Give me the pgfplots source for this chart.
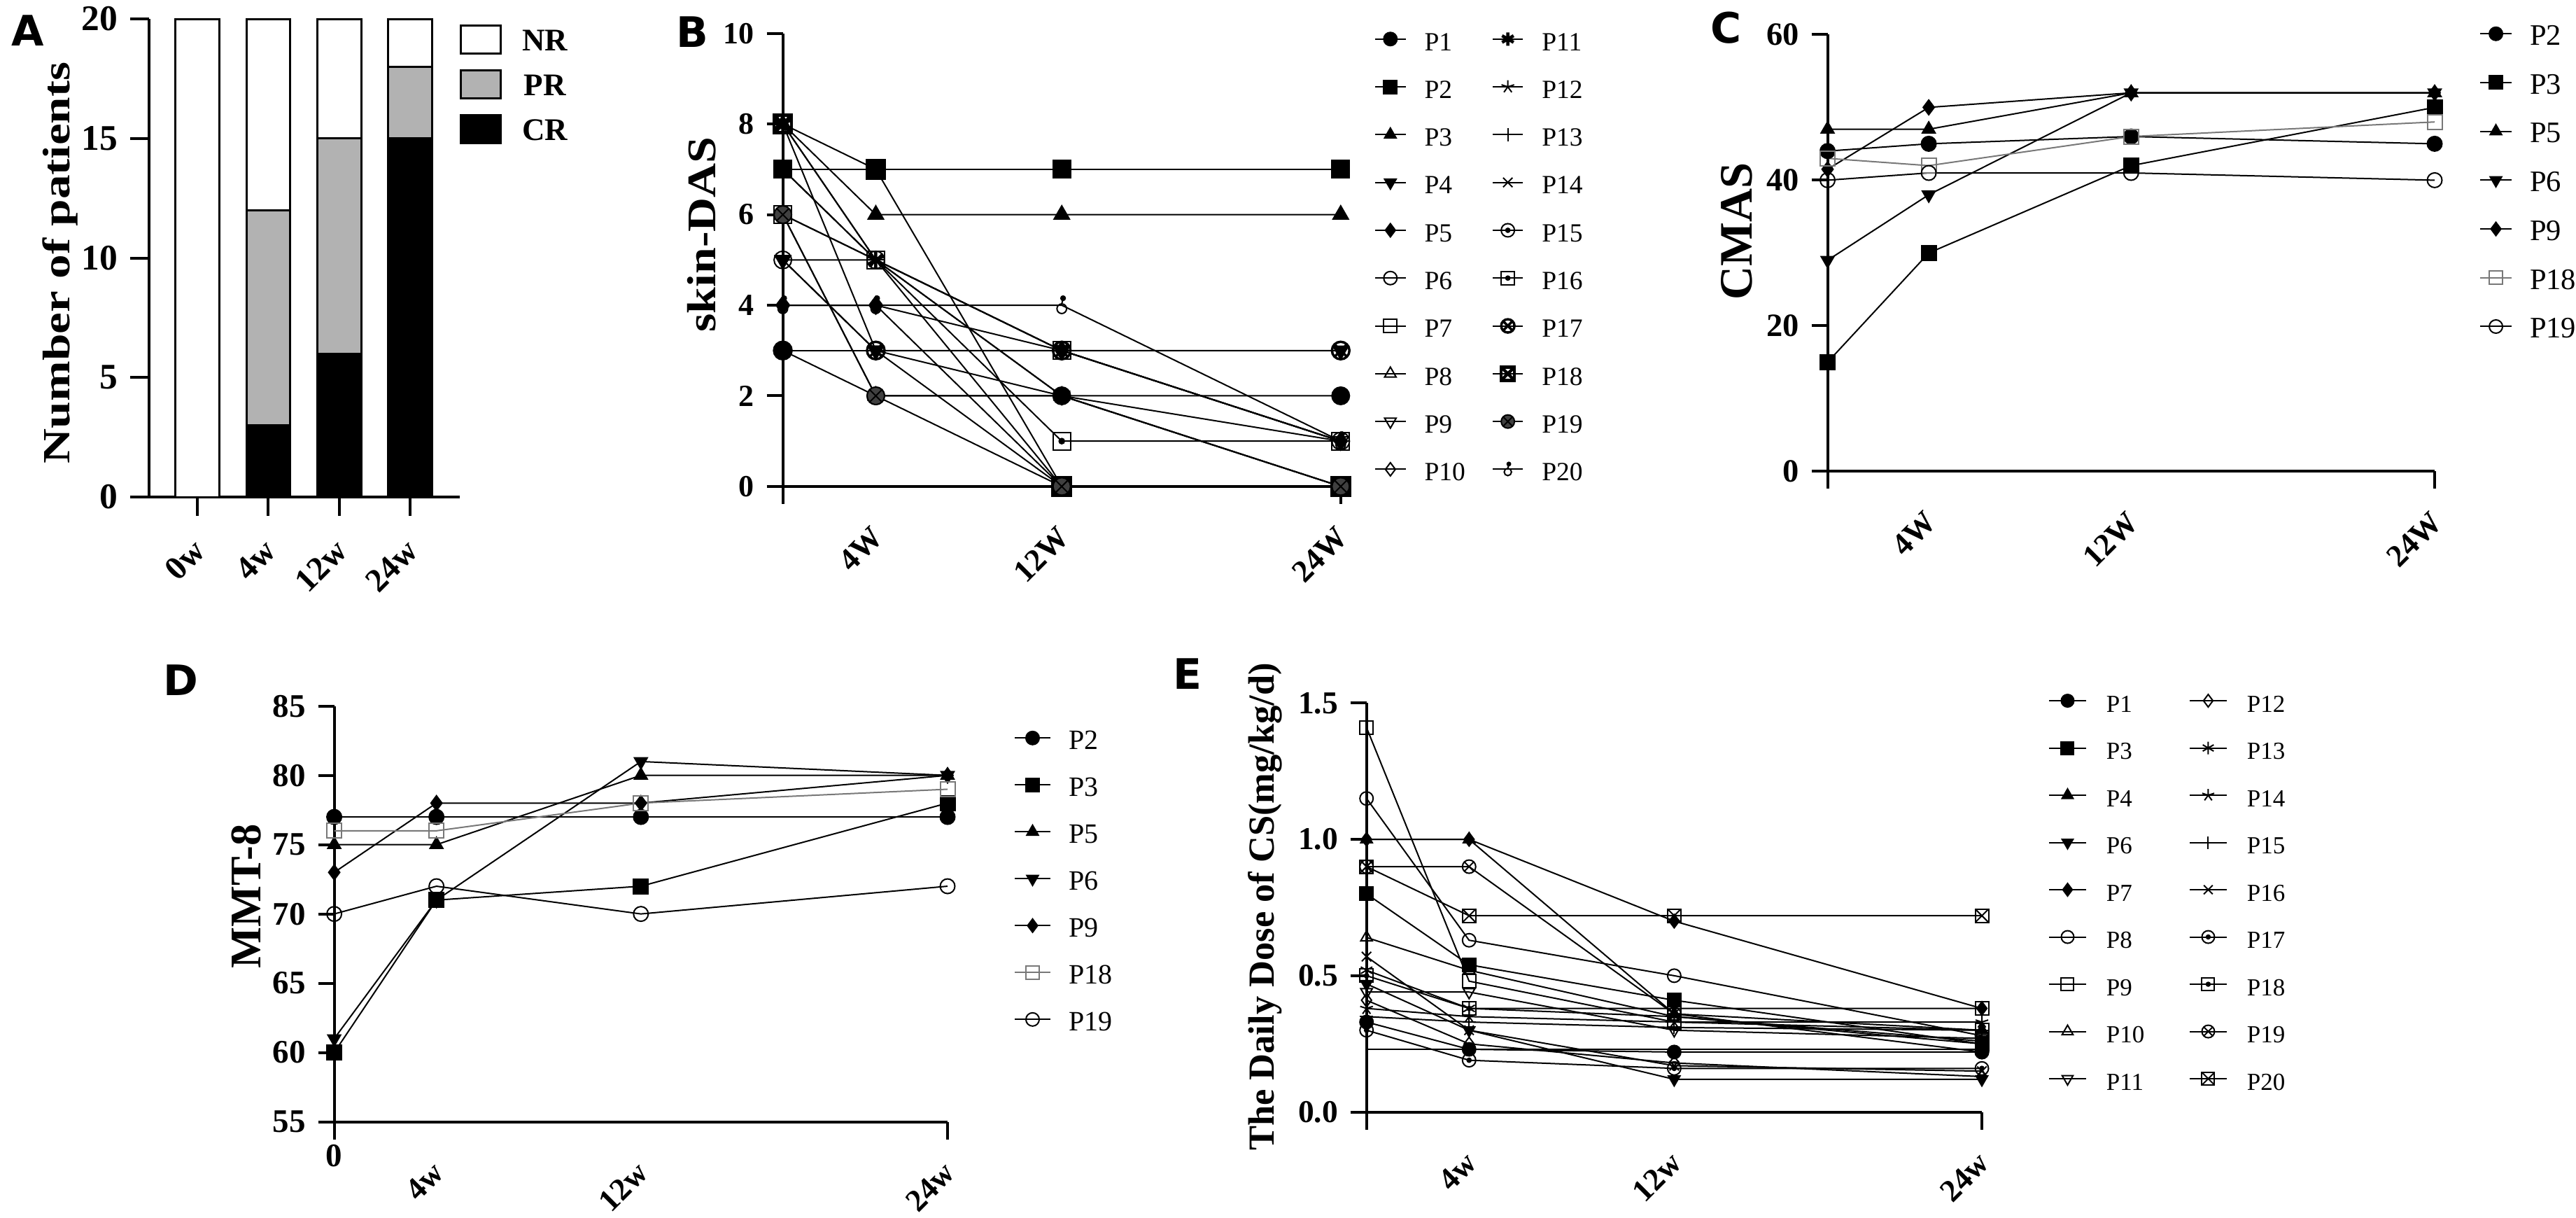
\documentclass[border=0pt]{standalone}
\usepackage{fontspec}
\setmainfont{Liberation Serif}
\newfontfamily\letterfont{DejaVu Sans}
\usepackage{pgfplots}
\pgfplotsset{compat=1.18}
\definecolor{prgray}{RGB}{178,178,178}
\definecolor{mgray}{RGB}{120,120,120}

% custom marks
\pgfdeclareplotmark{odot}{%
  \pgfpathcircle{\pgfpointorigin}{\pgfplotmarksize}\pgfusepathqstroke
  \pgfpathcircle{\pgfpointorigin}{0.3\pgfplotmarksize}\pgfusepathqfillstroke}
\pgfdeclareplotmark{sqdot}{%
  \pgfpathrectangle{\pgfpoint{-\pgfplotmarksize}{-\pgfplotmarksize}}{\pgfpoint{2\pgfplotmarksize}{2\pgfplotmarksize}}\pgfusepathqstroke
  \pgfpathcircle{\pgfpointorigin}{0.3\pgfplotmarksize}\pgfusepathqfillstroke}
\pgfdeclareplotmark{sqtimes}{%
  \pgfpathrectangle{\pgfpoint{-\pgfplotmarksize}{-\pgfplotmarksize}}{\pgfpoint{2\pgfplotmarksize}{2\pgfplotmarksize}}\pgfusepathqstroke
  \pgfpathmoveto{\pgfpoint{-\pgfplotmarksize}{-\pgfplotmarksize}}\pgfpathlineto{\pgfpoint{\pgfplotmarksize}{\pgfplotmarksize}}
  \pgfpathmoveto{\pgfpoint{-\pgfplotmarksize}{\pgfplotmarksize}}\pgfpathlineto{\pgfpoint{\pgfplotmarksize}{-\pgfplotmarksize}}\pgfusepathqstroke}
\pgfdeclareplotmark{male}{%
  \pgfpathcircle{\pgfpoint{0pt}{-0.4\pgfplotmarksize}}{0.55\pgfplotmarksize}\pgfusepathqstroke
  \pgfpathmoveto{\pgfpoint{0pt}{0.15\pgfplotmarksize}}\pgfpathlineto{\pgfpoint{0.15\pgfplotmarksize}{0.75\pgfplotmarksize}}\pgfusepathqstroke
  \pgfpathcircle{\pgfpoint{0.15\pgfplotmarksize}{0.8\pgfplotmarksize}}{0.25\pgfplotmarksize}\pgfusepathqfillstroke}

\pgfplotsset{
  mC/.style={mark=*}, mS/.style={mark=square*}, mT/.style={mark=triangle*},
  mV/.style={mark=triangle*, mark options={rotate=180}}, mDi/.style={mark=diamond*},
  oC/.style={mark=o}, oS/.style={mark=square}, oT/.style={mark=triangle},
  oV/.style={mark=triangle, mark options={rotate=180}}, oDi/.style={mark=diamond},
  gp/.style={
    scale only axis, clip=false,
    axis lines*=left,
    axis line style={line width=0.8pt},
    tick style={line width=0.8pt, black},
    tick align=outside, major tick length=4.6pt,
    x tick style={draw=none},
    xmin=0, xmax=24, xtick={4,12,24},
    /pgf/number format/assume math mode=true,
    xticklabel style={font=\fontsize{9}{10}\selectfont\bfseries, xshift=3pt, yshift=-6pt, rotate=45, anchor=east},
    every axis plot/.append style={black, line width=0.4pt},
    legend cell align=left,
  },
  lgd/.style={legend style={draw=none, fill=none, inner sep=0pt, outer sep=0pt, anchor=north west,
      nodes={inner sep=0pt, text height=0.75em, text depth=0.1em}}},
}

\begin{document}
\begin{tikzpicture}
\path[use as bounding box] (0pt,0pt) rectangle (736.2pt,-348pt);

%%%%%%%%%%%%%%%% A
\begin{axis}[
  at={(42.6pt,-142pt)}, anchor=south west, scale only axis, width=88.8pt, height=136.6pt,
  clip=false, axis lines*=left, axis line style={line width=0.8pt},
  tick style={line width=0.8pt, black}, tick align=outside, major tick length=5.4pt,
  ybar stacked, bar width=12.5pt,
  xmin=-0.683, xmax=3.70, ymin=0, ymax=20,
  xtick={0,1,2,3}, xticklabels={0w,4w,12w,24w}, ytick={0,5,10,15,20},
  /pgf/number format/assume math mode=true,
  xticklabel style={font=\fontsize{9.5}{10}\selectfont\bfseries, xshift=3pt, yshift=-6pt, rotate=45, anchor=east},
  yticklabel style={font=\fontsize{10.3}{11}\selectfont\bfseries},
  ylabel={Number of patients},
  ylabel style={at={(axis description cs:-0.286,0.49)}, anchor=center, font=\fontsize{11}{12}\selectfont\bfseries, xscale=1.26},
  lgd,
  legend style={at={(axis description cs:1.0,0.988)}, row sep=4.2pt, column sep=5.8pt, font=\fontsize{9}{10}\selectfont\bfseries},
  legend image code/.code={\draw[#1, line width=0.6pt] (0pt,-4pt) rectangle (11.4pt,4pt);},
  reverse legend,
]
\addplot[fill=black, draw=black, line width=0.6pt] coordinates {(0,0) (1,3) (2,6) (3,15)};
\addplot[fill=prgray, draw=black, line width=0.6pt] coordinates {(0,0) (1,9) (2,9) (3,3)};
\addplot[fill=white, draw=black, line width=0.6pt] coordinates {(0,20) (1,8) (2,5) (3,2)};
\legend{CR,PR,NR}
\end{axis}

%%%%%%%%%%%%%%%% B
\begin{axis}[gp,
  at={(223.72pt,-138.98pt)}, anchor=south west, width=159.44pt, height=129.44pt,
  ymin=0, ymax=10, ytick={0,2,4,6,8,10}, xticklabels={4W,12W,24W},
  yticklabel style={font=\fontsize{8.8}{10}\selectfont\bfseries},
  ylabel={skin-DAS},
  ylabel style={at={(axis description cs:-0.145,0.556)}, anchor=center, font=\fontsize{11.6}{13}\selectfont\bfseries, xscale=1.17},
  every axis plot/.append style={mark size=2.5pt},
  lgd, legend columns=10, transpose legend,
  legend style={at={(axis description cs:1.0605,1.0204)}, row sep=5.16pt, column sep=5.2pt,
    font=\fontsize{7.5}{8}\selectfont, /tikz/every even column/.append style={column sep=7.6pt}},
  legend image code/.code={\draw[mark repeat=2,mark phase=2,#1] plot coordinates {(0pt,0pt) (4.35pt,0pt) (8.7pt,0pt)};},
  legend image post style={mark size=1.9pt},
]
\addplot[mC]  coordinates {(0,3) (4,2) (12,2) (24,2)};
\addplot[mS]  coordinates {(0,7) (4,7) (12,7) (24,7)};
\addplot[mT]  coordinates {(0,8) (4,6) (12,6) (24,6)};
\addplot[mV]  coordinates {(0,5) (4,3) (12,3) (24,3)};
\addplot[mDi] coordinates {(0,4) (4,4) (12,3) (24,1)};
\addplot[oC]  coordinates {(0,5) (4,5) (12,3) (24,1)};
\addplot[oS]  coordinates {(0,6) (4,5) (12,3) (24,1)};
\addplot[oT]  coordinates {(0,6) (4,2) (12,2) (24,0)};
\addplot[oV]  coordinates {(0,5) (4,3) (12,2) (24,1)};
\addplot[oDi] coordinates {(0,4) (4,4) (12,0) (24,0)};
\addplot[mark=asterisk, mark options={line width=0.9pt}] coordinates {(0,8) (4,5) (12,0) (24,0)};
\addplot[mark=star] coordinates {(0,8) (4,5) (12,2) (24,0)};
\addplot[mark=+] coordinates {(0,7) (4,5) (12,3) (24,1)};
\addplot[mark=x] coordinates {(0,6) (4,5) (12,2) (24,0)};
\addplot[mark=odot] coordinates {(0,8) (4,3) (12,0) (24,0)};
\addplot[mark=sqdot] coordinates {(0,7) (4,5) (12,1) (24,1)};
\addplot[mark=otimes, mark options={line width=0.7pt}] coordinates {(0,3) (4,3) (12,3) (24,3)};
\addplot[mark=sqtimes, mark options={line width=0.9pt}] coordinates {(0,8) (4,7) (12,0) (24,0)};
\addplot[mark=otimes*, mark options={fill=darkgray}] coordinates {(0,6) (4,2) (12,0) (24,0)};
\addplot[mark=male] coordinates {(0,4) (4,4) (12,4) (24,1)};
\legend{P1,P2,P3,P4,P5,P6,P7,P8,P9,P10,P11,P12,P13,P14,P15,P16,P17,P18,P19,P20}
\draw[line width=0.8pt] (rel axis cs:0,0) -- ++(0pt,-5pt);
\draw[line width=0.8pt] (rel axis cs:1,0) -- ++(0pt,-5pt);
\end{axis}

%%%%%%%%%%%%%%%% C
\begin{axis}[gp,
  at={(522.3pt,-134.68pt)}, anchor=south west, width=173.5pt, height=124.8pt,
  ymin=0, ymax=60, ytick={0,20,40,60}, xticklabels={4W,12W,24W},
  yticklabel style={font=\fontsize{9.3}{10}\selectfont\bfseries},
  ylabel={CMAS},
  ylabel style={at={(axis description cs:-0.150,0.550)}, anchor=center, font=\fontsize{13.3}{14}\selectfont\bfseries},
  every axis plot/.append style={mark size=2.1pt},
  lgd,
  legend style={at={(axis description cs:1.0738,1.0359)}, row sep=5.44pt, column sep=5pt, font=\fontsize{8.5}{9}\selectfont},
  legend image code/.code={\draw[mark repeat=2,mark phase=2,#1] plot coordinates {(0pt,0pt) (4.5pt,0pt) (9pt,0pt)};},
  legend image post style={mark size=1.9pt},
]
\addplot[mC]  coordinates {(0,44) (4,45) (12,46) (24,45)};
\addplot[mS]  coordinates {(0,15) (4,30) (12,42) (24,50)};
\addplot[mT]  coordinates {(0,47) (4,47) (12,52) (24,52)};
\addplot[mV]  coordinates {(0,29) (4,38) (12,52) (24,52)};
\addplot[mDi] coordinates {(0,41.5) (4,50) (12,52) (24,52)};
\addplot[oS, mgray] coordinates {(0,43) (4,42) (12,46) (24,48)};
\addplot[oC]  coordinates {(0,40) (4,41) (12,41) (24,40)};
\legend{P2,P3,P5,P6,P9,P18,P19}
\draw[line width=0.8pt] (rel axis cs:0,0) -- ++(0pt,-5pt);
\draw[line width=0.8pt] (rel axis cs:1,0) -- ++(0pt,-5pt);
\end{axis}

%%%%%%%%%%%%%%%% D
\begin{axis}[gp,
  at={(95.52pt,-320.5pt)}, anchor=south west, width=175.28pt, height=118.76pt,
  ymin=55, ymax=85, ytick={55,60,65,70,75,80,85}, xticklabels={4w,12w,24w},
  yticklabel style={font=\fontsize{9.4}{10}\selectfont\bfseries},
  ylabel={MMT-8},
  ylabel style={at={(axis description cs:-0.143,0.543)}, anchor=center, font=\fontsize{12.5}{13}\selectfont\bfseries},
  every axis plot/.append style={mark size=2.1pt},
  lgd,
  legend style={at={(axis description cs:1.1084,0.959)}, row sep=4.9pt, column sep=5pt, font=\fontsize{8}{9}\selectfont},
  legend image code/.code={\draw[mark repeat=2,mark phase=2,#1] plot coordinates {(0pt,0pt) (5.1pt,0pt) (10.2pt,0pt)};},
  legend image post style={mark size=1.9pt},
]
\addplot[mC]  coordinates {(0,77) (4,77) (12,77) (24,77)};
\addplot[mS]  coordinates {(0,60) (4,71) (12,72) (24,78)};
\addplot[mT]  coordinates {(0,75) (4,75) (12,80) (24,80)};
\addplot[mV]  coordinates {(0,61) (4,71) (12,81) (24,80)};
\addplot[mDi] coordinates {(0,73) (4,78) (12,78) (24,80)};
\addplot[oS, mgray] coordinates {(0,76) (4,76) (12,78) (24,79)};
\addplot[oC]  coordinates {(0,70) (4,72) (12,70) (24,72)};
\legend{P2,P3,P5,P6,P9,P18,P19}
\draw[line width=0.8pt] (rel axis cs:0,0) -- ++(0pt,-5pt);
\draw[line width=0.8pt] (rel axis cs:1,0) -- ++(0pt,-5pt);
\node[anchor=north, font=\fontsize{9.4}{10}\selectfont\bfseries] at (rel axis cs:0,0) [yshift=-3pt] {0};
\end{axis}

%%%%%%%%%%%%%%%% E
\begin{axis}[gp,
  at={(390.54pt,-317.72pt)}, anchor=south west, width=175.86pt, height=116.86pt,
  ymin=0, ymax=1.5, ytick={0,0.5,1,1.5}, xticklabels={4w,12w,24w},
  yticklabel style={font=\fontsize{9.1}{10}\selectfont\bfseries, /pgf/number format/fixed, /pgf/number format/fixed zerofill, /pgf/number format/precision=1},
  ylabel={The Daily Dose of CS(mg/kg/d)},
  ylabel style={at={(axis description cs:-0.165,0.502)}, anchor=center, font=\fontsize{10.5}{11}\selectfont\bfseries},
  every axis plot/.append style={mark size=1.9pt},
  lgd, legend columns=9, transpose legend,
  legend style={at={(axis description cs:1.108,1.042)}, row sep=5.0pt, column sep=5.6pt,
    font=\fontsize{7}{8}\selectfont, /tikz/every even column/.append style={column sep=12.7pt}},
  legend image code/.code={\draw[mark repeat=2,mark phase=2,#1] plot coordinates {(0pt,0pt) (5.3pt,0pt) (10.6pt,0pt)};},
  legend image post style={mark size=1.8pt},
]
\addplot[mC]  coordinates {(0,0.33) (4,0.23) (12,0.22) (24,0.22)};
\addplot[mS]  coordinates {(0,0.80) (4,0.54) (12,0.41) (24,0.25)};
\addplot[mT]  coordinates {(0,1.00) (4,1.00) (12,0.36) (24,0.30)};
\addplot[mV]  coordinates {(0,0.47) (4,0.30) (12,0.12) (24,0.12)};
\addplot[mDi] coordinates {(0,1.00) (4,1.00) (12,0.70) (24,0.38)};
\addplot[oC]  coordinates {(0,1.15) (4,0.63) (12,0.50) (24,0.28)};
\addplot[oS]  coordinates {(0,1.41) (4,0.48) (12,0.33) (24,0.30)};
\addplot[oT]  coordinates {(0,0.64) (4,0.52) (12,0.35) (24,0.25)};
\addplot[oV]  coordinates {(0,0.44) (4,0.44) (12,0.30) (24,0.27)};
\addplot[oDi] coordinates {(0,0.41) (4,0.25) (12,0.18) (24,0.13)};
\addplot[mark=asterisk] coordinates {(0,0.52) (4,0.38) (12,0.35) (24,0.26)};
\addplot[mark=star] coordinates {(0,0.38) (4,0.35) (12,0.33) (24,0.33)};
\addplot[mark=+] coordinates {(0,0.35) (4,0.33) (12,0.31) (24,0.30)};
\addplot[mark=x] coordinates {(0,0.57) (4,0.30) (12,0.17) (24,0.15)};
\addplot[mark=odot] coordinates {(0,0.30) (4,0.19) (12,0.16) (24,0.16)};
\addplot[mark=sqdot] coordinates {(0,0.50) (4,0.38) (12,0.38) (24,0.38)};
\addplot[mark=otimes] coordinates {(0,0.90) (4,0.90) (12,0.36) (24,0.22)};
\addplot[mark=sqtimes] coordinates {(0,0.90) (4,0.72) (12,0.72) (24,0.72)};
\addplot[mark=none, forget plot] coordinates {(0,0.23) (4,0.23) (12,0.23) (24,0.23)};
\legend{P1,P3,P4,P6,P7,P8,P9,P10,P11,P12,P13,P14,P15,P16,P17,P18,P19,P20}
\draw[line width=0.8pt] (rel axis cs:0,0) -- ++(0pt,-5pt);
\draw[line width=0.8pt] (rel axis cs:1,0) -- ++(0pt,-5pt);
\end{axis}

%%%%%%%%%%%%%%%% panel letters
\begin{scope}[every node/.style={font=\letterfont\bfseries\fontsize{12}{14}\selectfont}]
\node at (8pt,-8.8pt) {A};
\node at (197.8pt,-9.2pt) {B};
\node at (493.2pt,-8pt) {C};
\node at (51.6pt,-194.4pt) {D};
\node at (339.4pt,-192.6pt) {E};
\end{scope}
\end{tikzpicture}
\end{document}
